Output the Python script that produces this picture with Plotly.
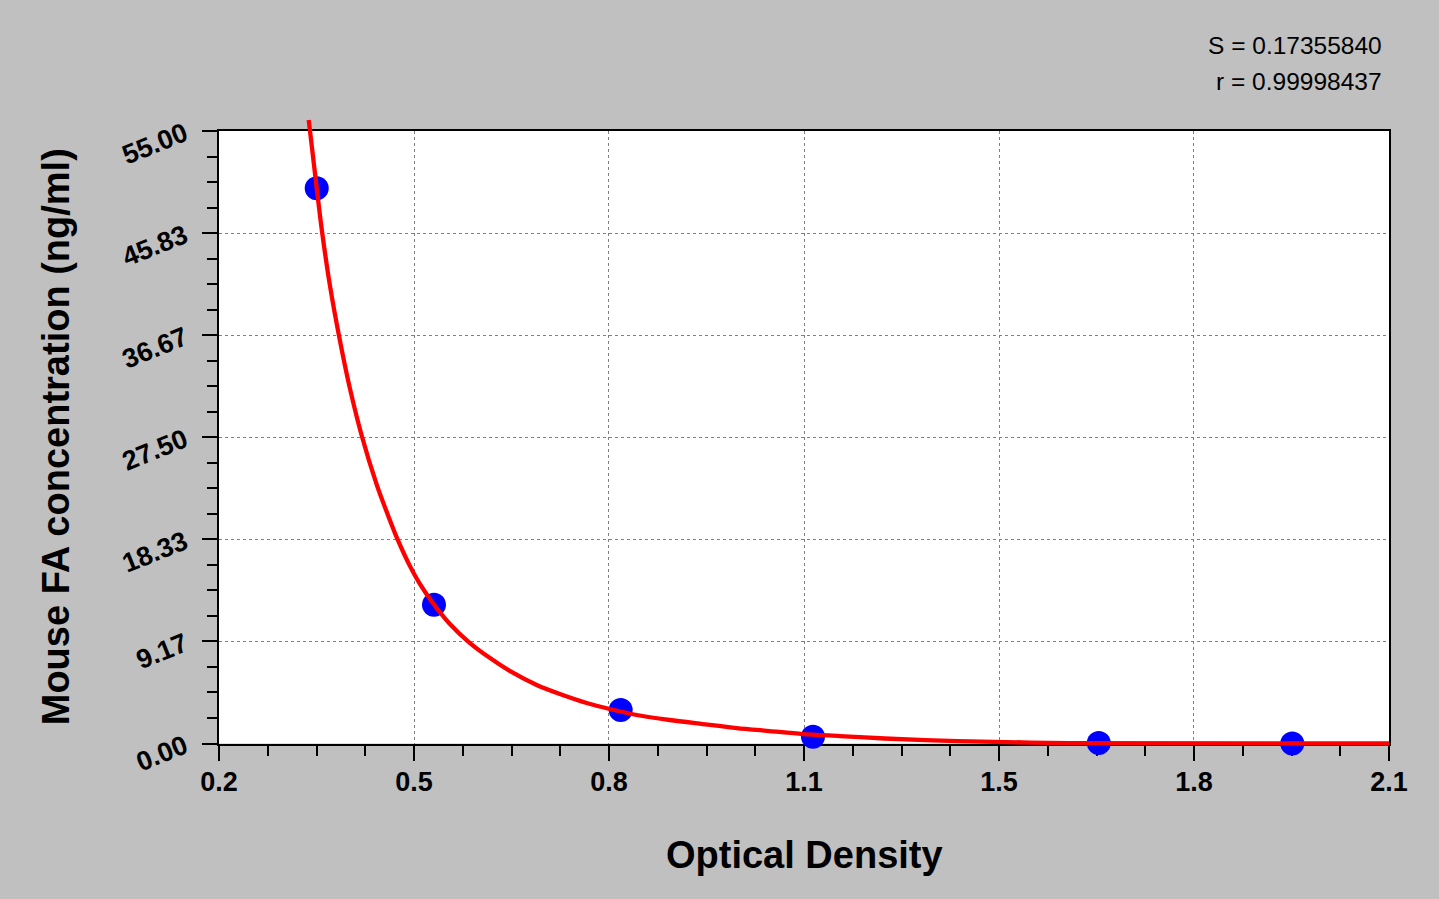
import plotly.graph_objects as go

# ─── Data ─────────────────────────────────────────────────────────────────────

# standards: optical density vs concentration
od = [0.3587, 0.5491, 0.8523, 1.1646, 1.6287, 1.9429]
conc = [49.85, 12.46, 3.01, 0.61, 0.05, 0.0]

# fitted curve
curve_od = [0.3457, 0.3587, 0.3668, 0.3798, 0.3960, 0.4122, 0.4317, 0.4561,
            0.4772, 0.4902, 0.5097, 0.5259, 0.5470, 0.5746, 0.6071, 0.6396,
            0.6721, 0.7159, 0.7581, 0.7971, 0.8345, 0.8783, 0.9319, 0.9855,
            1.0407, 1.0943, 1.1479, 1.2080, 1.2810, 1.3996, 1.5782, 2.1]
curve_conc = [55.99, 49.87, 46.19, 41.24, 36.29, 31.98, 27.66, 23.25,
              20.10, 18.30, 15.97, 14.35, 12.64, 10.75, 9.04, 7.69,
              6.52, 5.26, 4.36, 3.64, 3.10, 2.56, 2.11, 1.75,
              1.39, 1.12, 0.85, 0.67, 0.45, 0.22, 0.04, 0.0]

x_ticks = [0.2, 0.5167, 0.8333, 1.15, 1.4667, 1.7833, 2.1]
x_labels = ["0.2", "0.5", "0.8", "1.1", "1.5", "1.8", "2.1"]
y_ticks = [0.0, 9.1667, 18.3333, 27.5, 36.6667, 45.8333, 55.0]
y_labels = ["0.00", "9.17", "18.33", "27.50", "36.67", "45.83", "55.00"]

stats = ["S = 0.17355840", "r = 0.99998437"]

X_RANGE = [0.2, 2.1]
Y_RANGE = [0.0, 55.0]

# ─── Geometry ────────────────────────────────────────────────────────────────

W, H = 1439, 899
L, R, T, B = 219, 1389, 131, 743.5      # main plot box (px)
PAD_T, PAD_R, PAD_B = 15, 7, 5.5         # room for the curve to run past the frame

pw = (R + PAD_R) - L
ph = (B + PAD_B) - (T - PAD_T)
x_per_px = (X_RANGE[1] - X_RANGE[0]) / (R - L)
y_per_px = (Y_RANGE[1] - Y_RANGE[0]) / (B - T)

FONT = "Arial, 'Liberation Sans', sans-serif"
BG = "#c0c0c0"

fig = go.Figure()

fig.add_trace(go.Scatter(
    x=od, y=conc, mode="markers",
    marker=dict(color="#0000ff", size=24, line_width=0),
    cliponaxis=False, showlegend=False,
    xaxis="x", yaxis="y",
))

fig.add_trace(go.Scatter(
    x=curve_od, y=curve_conc, mode="lines",
    line=dict(color="#ff0000", width=4.3, shape="spline", smoothing=0.8),
    showlegend=False,
    xaxis="x2", yaxis="y2",
))

axis_common = dict(
    showline=True, linewidth=2, linecolor="black", mirror=True,
    ticks="outside", ticklen=15, tickwidth=2, tickcolor="black",
    showgrid=True, gridcolor="#808080", gridwidth=1, griddash="3px,3px",
    zeroline=False, automargin=False, layer="below traces",
    tickfont=dict(family=FONT, size=27, color="black", weight="bold"),
    tickmode="array",
)

fig.update_layout(
    width=W, height=H,
    paper_bgcolor=BG,
    plot_bgcolor="rgba(0,0,0,0)",
    margin=dict(l=L, r=W - (R + PAD_R), t=T - PAD_T, b=H - (B + PAD_B), pad=0),
    xaxis=dict(
        axis_common,
        domain=[0, (R - L) / pw], range=X_RANGE, anchor="y",
        tickvals=x_ticks, ticktext=x_labels, ticklabelstandoff=-2,
        minor=dict(tickmode="linear", tick0=0.2, dtick=1.9 / 24, ticks="outside",
                   ticklen=10, tickwidth=2, tickcolor="black", showgrid=False),
    ),
    yaxis=dict(
        axis_common,
        domain=[PAD_B / ph, (PAD_B + B - T) / ph], range=Y_RANGE, anchor="x",
        tickvals=y_ticks, ticktext=y_labels, tickangle=-22, ticklabelstandoff=12,
        minor=dict(tickmode="linear", tick0=0, dtick=55 / 24, ticks="outside",
                   ticklen=10, tickwidth=2, tickcolor="black", showgrid=False),
    ),
    xaxis2=dict(domain=[0, 1], anchor="y2", visible=False,
                range=[X_RANGE[0], X_RANGE[1] + PAD_R * x_per_px]),
    yaxis2=dict(domain=[0, 1], anchor="x2", visible=False,
                range=[Y_RANGE[0] - PAD_B * y_per_px, Y_RANGE[1] + PAD_T * y_per_px]),
    shapes=[dict(type="rect", xref="x domain", yref="y domain",
                 x0=0, x1=1, y0=0, y1=1, fillcolor="white",
                 line_width=0, layer="below")],
)

# axis titles
fig.add_annotation(
    text="Optical Density", xref="x domain", yref="y domain",
    x=0.5, y=0, yshift=-111.5, xanchor="center", yanchor="middle",
    showarrow=False, font=dict(family=FONT, size=38, color="black", weight="bold"),
)
fig.add_annotation(
    text="Mouse FA concentration (ng/ml)", xref="x domain", yref="y domain",
    x=0, y=0.5, xshift=-163, xanchor="center", yanchor="middle", textangle=-90,
    showarrow=False, font=dict(family=FONT, size=38, color="black", weight="bold"),
)

# fit statistics, top right
for txt, dy in zip(stats, [85.5, 50]):
    fig.add_annotation(
        text=txt, xref="x domain", yref="y domain",
        x=1, y=1, xshift=-5, yshift=dy, xanchor="right", yanchor="middle",
        showarrow=False, font=dict(family=FONT, size=24.5, color="black"),
    )

# page body has a default margin; drop it so the figure sits at the window origin
fig.write_html("out.html", config={"displayModeBar": False},
               post_script="document.body.style.margin = '0';")
